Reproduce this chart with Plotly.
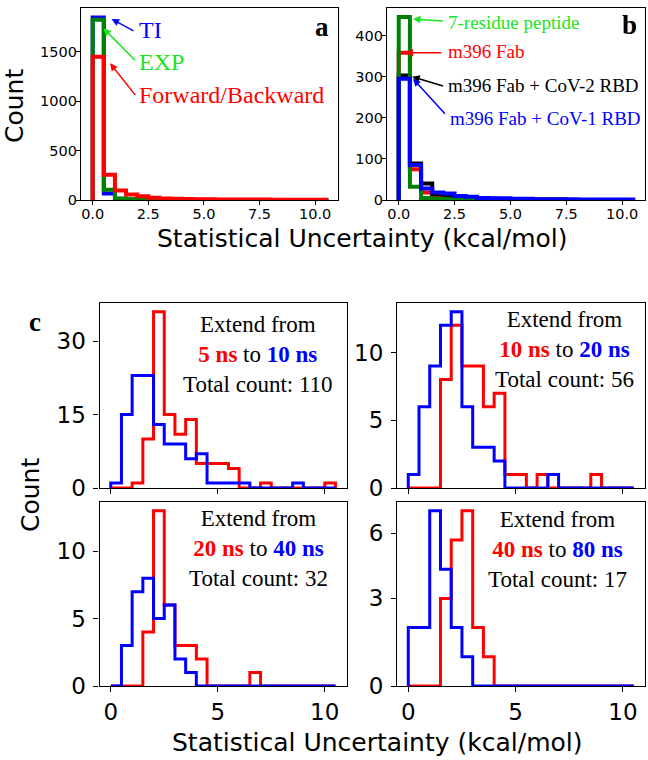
import numpy as np
import plotly.graph_objects as go

# bins of 0.5 kcal/mol from 0 to 10.5
BIN_WIDTH = 0.5
N_BINS = 21

# panel a
ti_counts = [1850, 65, 12, 6, 4, 3, 2, 2, 1, 1, 1, 1, 1, 1, 0, 0, 0, 0, 0, 0, 1]
exp_counts = [1825, 105, 15, 8, 5, 3, 2, 2, 1, 1, 1, 1, 0, 0, 0, 0, 0, 0, 0, 0, 1]
fb_counts = [1450, 255, 95, 55, 38, 22, 16, 12, 10, 8, 7, 6, 5, 5, 4, 4, 3, 3, 3, 3, 3]

# panel b
peptide_counts = [445, 32, 5, 3, 2, 1, 1, 1, 0, 0, 0, 0, 0, 0, 0, 0, 0, 0, 0, 0, 0]
fab_counts = [358, 75, 18, 9, 6, 4, 3, 2, 2, 1, 1, 1, 0, 0, 0, 0, 0, 0, 0, 0, 0]
cov2_counts = [303, 89, 40, 14, 7, 5, 4, 3, 3, 2, 2, 1, 1, 1, 1, 0, 0, 0, 0, 0, 0]
cov1_counts = [295, 85, 28, 18, 16, 10, 8, 5, 4, 4, 3, 3, 2, 2, 2, 2, 1, 1, 1, 1, 1]

# panel c: short run (red) vs extended run (blue)
c1_red = [0, 0, 1, 10, 36, 15, 11, 14, 5, 5, 5, 4, 0, 0, 1, 0, 0, 0, 0, 0, 1]
c1_blue = [1, 15, 23, 23, 13, 9, 9, 6, 7, 1, 1, 1, 1, 0, 0, 0, 0, 1, 0, 0, 0]
c2_red = [0, 0, 0, 8, 12, 9, 9, 6, 7, 1, 1, 0, 1, 0, 0, 0, 0, 1, 0, 0, 0]
c2_blue = [1, 6, 9, 12, 13, 6, 3, 3, 2, 0, 0, 0, 0, 1, 0, 0, 0, 0, 0, 0, 0]
c3_red = [0, 0, 0, 4, 13, 6, 3, 3, 2, 0, 0, 0, 0, 1, 0, 0, 0, 0, 0, 0, 0]
c3_blue = [0, 3, 7, 8, 5, 6, 2, 1, 0, 0, 0, 0, 0, 0, 0, 0, 0, 0, 0, 0, 0]
c4_red = [0, 0, 0, 3, 5, 6, 2, 1, 0, 0, 0, 0, 0, 0, 0, 0, 0, 0, 0, 0, 0]
c4_blue = [2, 2, 6, 4, 2, 1, 0, 0, 0, 0, 0, 0, 0, 0, 0, 0, 0, 0, 0, 0, 0]

c_times = [("5", "10"), ("10", "20"), ("20", "40"), ("40", "80")]
c_totals = [110, 56, 32, 17]

RED, BLUE, GREEN, BLACK = "#ff0000", "#0000ff", "#008000", "#000000"
LIME = "#19e619"
SERIF = "Liberation Serif"
SANS = "DejaVu Sans"

edges = np.arange(N_BINS + 1) * BIN_WIDTH


def step_trace(counts, color, width, axis_idx):
    # matplotlib histtype="step" look
    x = np.concatenate([[edges[0]], edges])
    y = np.concatenate([[0], counts, [0]])
    sfx = "" if axis_idx == 1 else str(axis_idx)
    return go.Scatter(x=x, y=y, mode="lines", line=dict(color=color, width=width, shape="hv"),
                      xaxis="x" + sfx, yaxis="y" + sfx, showlegend=False, hoverinfo="skip")


fig = go.Figure()
for c, col in [(ti_counts, BLUE), (exp_counts, GREEN), (fb_counts, RED)]:
    fig.add_trace(step_trace(c, col, 4, 1))
for c, col in [(fab_counts, RED), (cov2_counts, BLACK), (peptide_counts, GREEN), (cov1_counts, BLUE)]:
    fig.add_trace(step_trace(c, col, 4, 2))
for i, (r, b) in enumerate([(c1_red, c1_blue), (c2_red, c2_blue), (c3_red, c3_blue), (c4_red, c4_blue)]):
    fig.add_trace(step_trace(r, RED, 3, i + 3))
    fig.add_trace(step_trace(b, BLUE, 3, i + 3))

W, H = 648, 760


def dom_x(a, b):
    return [a / W, b / W]


def dom_y(top, bottom):
    return [1 - bottom / H, 1 - top / H]


axis_common = dict(showline=True, linecolor="black", linewidth=1.2, mirror=True, ticks="outside",
                   ticklen=5, tickwidth=1.2, tickcolor="black", showgrid=False, zeroline=False,
                   automargin=False)
xr = [-0.525, 11.025]
top_tick = dict(family=SANS, size=14.5, color="black")
big_tick = dict(family=SANS, size=23, color="black")

layout = dict(
    width=W, height=H, margin=dict(l=0, r=0, t=0, b=0),
    plot_bgcolor="white", paper_bgcolor="white", showlegend=False,
    xaxis=dict(axis_common, domain=dom_x(81, 338), range=xr, anchor="y", ticklen=4, ticklabelstandoff=-4,
               tickvals=[0, 2.5, 5, 7.5, 10], tickformat=".1f", tickfont=top_tick),
    yaxis=dict(axis_common, domain=dom_y(8, 200), range=[0, 1945], anchor="x", ticklen=4, ticklabelstandoff=-4,
               tickvals=[0, 500, 1000, 1500], tickfont=top_tick),
    xaxis2=dict(axis_common, domain=dom_x(387, 645), range=xr, anchor="y2", ticklen=4, ticklabelstandoff=-4,
                tickvals=[0, 2.5, 5, 7.5, 10], tickformat=".1f", tickfont=top_tick),
    yaxis2=dict(axis_common, domain=dom_y(8, 200), range=[0, 467], anchor="x2", ticklen=4, ticklabelstandoff=-4,
                tickvals=[0, 100, 200, 300, 400], tickfont=top_tick),
)

c_boxes = [(99.5, 346.7, 303, 488), (397, 645, 303, 488), (99.5, 346.7, 502, 686), (397, 645, 502, 686)]
c_yr = [37.8, 13.65, 13.65, 6.3]
c_ytv = [[0, 15, 30], [0, 5, 10], [0, 5, 10], [0, 3, 5.23]]
c_ytt = [["0", "15", "30"], ["0", "5", "10"], ["0", "5", "10"], ["0", "3", "6"]]
for i, (x0, x1, y0, y1) in enumerate(c_boxes):
    n = i + 3
    layout[f"xaxis{n}"] = dict(axis_common, domain=dom_x(x0, x1), range=xr, anchor=f"y{n}",
                               tickvals=[0, 5, 10], showticklabels=(i >= 2), tickfont=big_tick)
    layout[f"yaxis{n}"] = dict(axis_common, domain=dom_y(y0, y1), range=[0, c_yr[i]], anchor=f"x{n}",
                               tickvals=c_ytv[i], ticktext=c_ytt[i], tickfont=big_tick,
                               ticklabelstandoff=3)
fig.update_layout(**layout)

ann = []
label_font = dict(family=SANS, size=25, color="black")
# axis titles
ann.append(dict(text="Count", x=15 / W, y=1 - 106 / H, textangle=-90, font=label_font))
ann.append(dict(text="Count", x=30 / W, y=1 - 495 / H, textangle=-90, font=label_font))
ann.append(dict(text="Statistical Uncertainty (kcal/mol)", x=362 / W, y=1 - 239 / H, font=label_font))
ann.append(dict(text="Statistical Uncertainty (kcal/mol)", x=377 / W, y=1 - 742 / H, font=label_font))
ann.append(dict(text="<b>c</b>", x=35 / W, y=1 - 322 / H, font=dict(family=SERIF, size=27, color="black")))
for a in ann:
    a.update(xref="paper", yref="paper", xanchor="center", yanchor="middle", showarrow=False)

# panel letters
for txt, ax, x, y in [("a", "x", 0.973, 0.9), ("b", "x2", 0.977, 0.91)]:
    ann.append(dict(text=f"<b>{txt}</b>", x=x, y=y, xref=f"{ax} domain", yref=f"{ax.replace('x', 'y')} domain",
                    xanchor="right", yanchor="middle", showarrow=False,
                    font=dict(family=SERIF, size=27, color="black")))

# panel a labels and arrows
a_labels = [("TI", BLUE, 2.0, 1722, (0.85, 1834), (1.9, 1705)),
            ("EXP", LIME, 2.0, 1393, (0.48, 1740), (1.97, 1401)),
            ("Forward/Backward", RED, 2.0, 1064, (0.78, 1385), (1.97, 1047))]
for txt, col, tx, ty, tip, tail in a_labels:
    ann.append(dict(text=txt, x=tx, y=ty, xref="x", yref="y", xanchor="left", yanchor="middle",
                    showarrow=False, font=dict(family=SERIF, size=24, color=col)))
    ann.append(dict(text="", x=tip[0], y=tip[1], ax=tail[0], ay=tail[1], xref="x", yref="y",
                    axref="x", ayref="y", showarrow=True, arrowhead=2, arrowsize=1, arrowwidth=1.5,
                    arrowcolor=col))

b_labels = [("7-residue peptide", LIME, 2.13, 432, (0.64, 440), (2.05, 435)),
            ("m396 Fab", RED, 2.1, 362, (0.3, 358), (1.98, 358)),
            ("m396 Fab + CoV-2 RBD", BLACK, 2.1, 279, (0.6, 300), (2.05, 276)),
            ("m396 Fab + CoV-1 RBD", BLUE, 2.2, 198, (0.64, 295), (2.13, 206))]
for txt, col, tx, ty, tip, tail in b_labels:
    ann.append(dict(text=txt, x=tx, y=ty, xref="x2", yref="y2", xanchor="left", yanchor="middle",
                    showarrow=False, font=dict(family=SERIF, size=19, color=col)))
    ann.append(dict(text="", x=tip[0], y=tip[1], ax=tail[0], ay=tail[1], xref="x2", yref="y2",
                    axref="x2", ayref="y2", showarrow=True, arrowhead=2, arrowsize=1, arrowwidth=1.5,
                    arrowcolor=col))

# panel c text boxes
c_text_pos = [(0.642, 0.719), (0.677, 0.746), (0.642, 0.747), (0.649, 0.743)]
for i, ((t0, t1), total) in enumerate(zip(c_times, c_totals)):
    n = i + 3
    txt = (f"Extend from<br><span style='color:{RED}'><b>{t0} ns</b></span> to "
           f"<span style='color:{BLUE}'><b>{t1} ns</b></span><br>Total count: {total}")
    ann.append(dict(text=txt, x=c_text_pos[i][0], y=c_text_pos[i][1], xref=f"x{n} domain",
                    yref=f"y{n} domain", xanchor="center", yanchor="middle", showarrow=False,
                    align="center", font=dict(family=SERIF, size=23, color="black")))

fig.update_layout(annotations=ann)
# drop the default 8px page margin so the figure fills the window exactly
fig.write_html("out.html", config={"displayModeBar": False},
               post_script="document.body.style.margin='0px';")
